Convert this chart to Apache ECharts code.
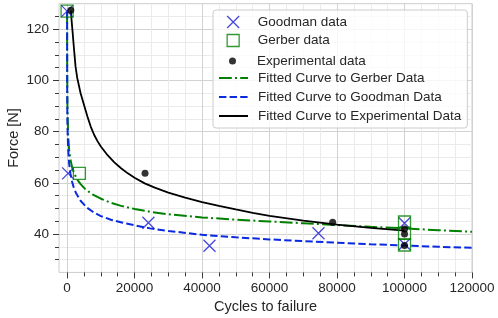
<!DOCTYPE html>
<html>
<head>
<meta charset="utf-8">
<script src="https://cdn.jsdelivr.net/npm/echarts@6/dist/echarts.min.js"></script>
<style>html,body{margin:0;padding:0;background:#fff}#c{width:498px;height:318px}</style>
</head>
<body>
<div id="c"></div>
<script>
// ---- data ----
const goodmanN = [0, 300, 24100, 42200, 74500, 100000, 100000];
const goodmanF = [127.1, 63.7, 44.4, 35.4, 40.3, 44.2, 36.0];
const gerberN = [0, 3650, 100000, 100000, 100000];
const gerberF = [127.1, 63.7, 44.7, 40.3, 35.7];
const expN = [1100, 23100, 78700, 100000, 100000, 100000];
const expF = [127.4, 63.7, 44.6, 42.0, 40.0, 35.5];

const fitGerberN = [4, 10, 30, 100, 300, 600, 1000, 1500, 2000, 3000, 4000, 5500, 7500, 10000, 13000, 16000, 20000, 25000, 30000, 40000, 50000, 60000, 70000, 80000, 90000, 100000, 110000, 120000];
const fitGerberF = [127, 116, 103, 90, 79, 73, 69, 66, 64, 61.3, 59.5, 57.4, 55.5, 53.8, 52.2, 51, 49.8, 48.6, 47.7, 46.5, 45.6, 44.9, 44.2, 43.5, 42.8, 42.2, 41.5, 40.9];
const fitGoodmanN = [4, 10, 30, 80, 150, 300, 600, 1000, 1500, 2000, 2760, 4000, 5700, 7500, 10000, 13000, 16500, 20000, 24600, 30000, 40000, 50000, 60000, 70000, 80000, 90000, 100000, 110000, 120000];
const fitGoodmanF = [127, 113, 97, 86, 80, 73.5, 67.5, 63.5, 60.3, 58, 55.7, 53, 50.5, 48.8, 47, 45.6, 44.4, 43.4, 42.2, 41.2, 39.7, 38.7, 37.9, 37.2, 36.6, 36.0, 35.5, 35.0, 34.6];
const fitExpN = [1100, 1300, 1600, 2000, 2500, 3000, 4000, 5000, 6000, 7000, 8000, 9000, 10000, 12000, 14000, 16000, 18000, 20000, 23000, 26000, 30000, 35000, 40000, 45000, 50000, 55000, 60000, 70000, 80000, 90000, 100000];
const fitExpF = [127.4, 124, 119.5, 113, 105.5, 101, 95, 90.5, 86, 82, 78.8, 76.3, 74.2, 70.8, 68, 65.7, 63.7, 62, 59.8, 58.1, 56.2, 54.2, 52.5, 51, 49.6, 48.3, 47.1, 45.2, 43.7, 42.4, 41.3];

const xMajor = [0, 20000, 40000, 60000, 80000, 100000, 120000];
const xMinor = [5000, 10000, 15000, 25000, 30000, 35000, 45000, 50000, 55000, 65000, 70000, 75000, 85000, 90000, 95000, 105000, 110000, 115000];
const yMajor = [40, 60, 80, 100, 120];
const yMinor = [30, 35, 45, 50, 55, 65, 70, 75, 85, 90, 95, 105, 110, 115, 125];

const zip = (a, b) => a.map((v, i) => [v, b[i]]);

const FONT = 'Liberation Sans, Arial, sans-serif';
const TXT = '#262626';
const xMin = -2400, xMax = 120000, yMin = 25, yMax = 130;
const SQUARE = 'path://M0,0H10V10H0Z';
const CROSS = 'path://M0,0L10,10M10,0L0,10';

const chart = echarts.init(document.getElementById('c'), null, {renderer: 'canvas'});

const baseAxis = (min, max) => ({
  type: 'value', min: min, max: max,
  axisLine: {show: false, onZero: false},
});
const plain = v => String(v);

const option = {
  animation: false,
  backgroundColor: '#fff',
  textStyle: {fontFamily: FONT},
  grid: {left: 59, right: 26, top: 3.7, bottom: 45.6, outerBoundsMode: 'none', containLabel: false,
         show: true, borderColor: '#cccccc', borderWidth: 1, backgroundColor: 'transparent'},
  xAxis: [
    Object.assign(baseAxis(xMin, xMax), {
      position: 'bottom',
      axisTick: {show: true, length: 4, customValues: xMinor, lineStyle: {color: '#3a3a3a', width: 1}},
      axisLabel: {show: false},
      splitLine: {show: true, lineStyle: {color: '#ebebeb', width: 1}}
    }),
    Object.assign(baseAxis(xMin, xMax), {
      position: 'bottom',
      name: 'Cycles to failure', nameLocation: 'middle', nameGap: 27, nameMoveOverlap: false,
      nameTextStyle: {fontSize: 14.5, color: TXT, fontFamily: FONT},
      axisTick: {show: true, length: 6, customValues: xMajor, lineStyle: {color: '#3a3a3a', width: 1}},
      axisLabel: {show: true, customValues: xMajor, margin: 9, fontSize: 13.5, color: TXT, fontFamily: FONT, formatter: plain},
      splitLine: {show: true, lineStyle: {color: '#d2d2d2', width: 1}}
    })
  ],
  yAxis: [
    Object.assign(baseAxis(yMin, yMax), {
      position: 'left',
      axisTick: {show: true, length: 4, customValues: yMinor, lineStyle: {color: '#3a3a3a', width: 1}},
      axisLabel: {show: false},
      splitLine: {show: true, lineStyle: {color: '#ebebeb', width: 1}}
    }),
    Object.assign(baseAxis(yMin, yMax), {
      position: 'left',
      name: 'Force [N]', nameLocation: 'middle', nameGap: 38, nameMoveOverlap: false,
      nameTextStyle: {fontSize: 14.5, color: TXT, fontFamily: FONT},
      axisTick: {show: true, length: 6, customValues: yMajor, lineStyle: {color: '#3a3a3a', width: 1}},
      axisLabel: {show: true, customValues: yMajor, margin: 10, fontSize: 13.5, color: TXT, fontFamily: FONT, formatter: plain},
      splitLine: {show: true, lineStyle: {color: '#d2d2d2', width: 1}}
    })
  ],
  legend: [
    {
      left: 213, top: 10, orient: 'vertical', padding: [61, 6, 5, 5],
      itemWidth: 29, itemHeight: 14, itemGap: 5, selectedMode: false,
      backgroundColor: 'rgba(255,255,255,0.8)', borderColor: '#cccccc', borderWidth: 1, borderRadius: 3,
      data: ['Fitted Curve to Gerber Data', 'Fitted Curve to Goodman Data', 'Fitted Curve to Experimental Data'],
      itemStyle: {color: 'rgba(0,0,0,0)', borderWidth: 0},
      lineStyle: {width: 2},
      textStyle: {fontSize: 13.5, color: TXT, fontFamily: FONT, lineHeight: 14, padding: [0, 0, 0, 5]}
    },
    {
      left: 226.5, top: 15, orient: 'vertical', padding: 0,
      itemWidth: 29, itemHeight: 12, itemGap: 4.5, selectedMode: false,
      data: ['Goodman data', 'Gerber data'],
      itemStyle: {borderWidth: 1.3},
      textStyle: {fontSize: 13.5, color: TXT, fontFamily: FONT, lineHeight: 12, padding: [0, 0, 0, 5]}
    },
    {
      left: 229, top: 54, orient: 'vertical', padding: 0,
      itemWidth: 29, itemHeight: 7, itemGap: 5, selectedMode: false,
      data: ['Experimental data'],
      textStyle: {fontSize: 13.5, color: TXT, fontFamily: FONT, lineHeight: 7, padding: [0, 0, 0, 5]}
    }
  ],
  series: [
    {
      name: 'Goodman data', type: 'scatter', xAxisIndex: 1, yAxisIndex: 1,
      symbol: CROSS, symbolSize: 12,
      itemStyle: {color: 'rgba(0,0,0,0)', borderColor: '#1a1ad6', borderWidth: 1.3},
      data: zip(goodmanN, goodmanF), z: 3
    },
    {
      name: 'Gerber data', type: 'scatter', xAxisIndex: 1, yAxisIndex: 1,
      symbol: SQUARE, symbolSize: 12,
      itemStyle: {color: 'rgba(0,0,0,0)', borderColor: '#008000', borderWidth: 1.3},
      data: zip(gerberN, gerberF), z: 3
    },
    {
      name: 'Experimental data', type: 'scatter', xAxisIndex: 1, yAxisIndex: 1,
      symbol: 'circle', symbolSize: 7,
      itemStyle: {color: '#000000'},
      data: zip(expN, expF), z: 4
    },
    {
      name: 'Fitted Curve to Gerber Data', type: 'line', xAxisIndex: 1, yAxisIndex: 1,
      showSymbol: false, symbol: 'circle', smooth: false,
      lineStyle: {color: '#008000', width: 2, type: [12.8, 3.2, 2, 3.2]},
      itemStyle: {color: '#008000'},
      data: zip(fitGerberN, fitGerberF), z: 2
    },
    {
      name: 'Fitted Curve to Goodman Data', type: 'line', xAxisIndex: 1, yAxisIndex: 1,
      showSymbol: false, symbol: 'circle', smooth: false,
      lineStyle: {color: '#0a2ae0', width: 2, type: [7.4, 3.2]},
      itemStyle: {color: '#0a2ae0'},
      data: zip(fitGoodmanN, fitGoodmanF), z: 2
    },
    {
      name: 'Fitted Curve to Experimental Data', type: 'line', xAxisIndex: 1, yAxisIndex: 1,
      showSymbol: false, symbol: 'circle', smooth: false,
      lineStyle: {color: '#000000', width: 1.8, type: 'solid'},
      itemStyle: {color: '#000000'},
      data: zip(fitExpN, fitExpF), z: 2
    }
  ]
};
chart.setOption(option);
</script>
</body>
</html>
